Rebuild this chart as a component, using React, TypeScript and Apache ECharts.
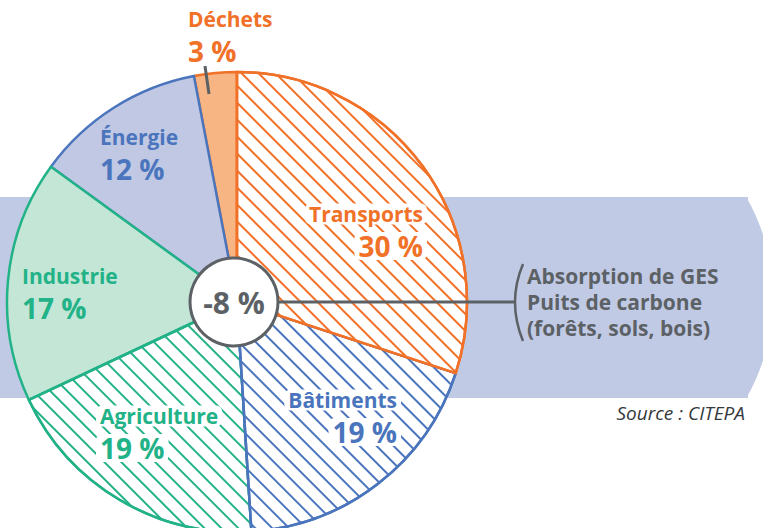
import React, { useEffect, useRef } from "react";
import * as echarts from "echarts";

// ---- data ----
const categories = ["Transports", "Bâtiments", "Agriculture", "Industrie", "Énergie", "Déchets"];
const shares = [30, 19, 19, 17, 12, 3];
const netAbsorption = -8;
const absorptionLines = ["Absorption de GES", "Puits de carbone", "(forêts, sols, bois)"];
const sourceText = "Source : CITEPA";

// ---- styles ----
const ORANGE = "#F07127";
const BLUE = "#4A75BD";
const GREEN = "#22B287";
const GRAY = "#5C6166";
const BAND = "#C1CAE5";
const FONT = '"Open Sans", "Noto Sans", sans-serif';

const sliceStyle: Record<string, { line: string; fill: string; hatch: boolean }> = {
  Transports: { line: ORANGE, fill: "#FFFFFF", hatch: true },
  "Bâtiments": { line: BLUE, fill: "#FFFFFF", hatch: true },
  Agriculture: { line: GREEN, fill: "#FFFFFF", hatch: true },
  Industrie: { line: GREEN, fill: "#C4E6D7", hatch: false },
  "Énergie": { line: BLUE, fill: "#C0C8E4", hatch: false },
  "Déchets": { line: ORANGE, fill: "#F8B584", hatch: false },
};

// label anchor: x, top y, alignment
const labelPos: Record<string, { x: number; y: number; align: "left" | "right" }> = {
  Transports: { x: 423, y: 199, align: "right" },
  "Bâtiments": { x: 397, y: 385, align: "right" },
  Agriculture: { x: 100, y: 401, align: "left" },
  Industrie: { x: 22, y: 261, align: "left" },
  "Énergie": { x: 100, y: 122, align: "left" },
  "Déchets": { x: 188, y: 4, align: "left" },
};

export default function App() {
  const ref = useRef<HTMLDivElement>(null);

  useEffect(() => {
    if (!ref.current) return;
    const chart = echarts.init(ref.current, null, { renderer: "svg", width: 763, height: 528 });

    // drawn in reverse so that earlier slices' borders sit on top (counter-clockwise from top)
    const order = categories.map((_, i) => i).reverse();
    const data = order.map((i) => {
      const name = categories[i];
      const st = sliceStyle[name];
      const pos = labelPos[name];
      const bg = st.hatch ? { backgroundColor: "#FFFFFF", borderRadius: 6 } : {};
      return {
        name,
        value: shares[i],
        itemStyle: {
          color: st.fill,
          borderColor: st.line,
          borderWidth: 2.5,
          decal: st.hatch
            ? {
                symbol: "rect",
                symbolSize: 1,
                dashArrayX: [1, 0],
                dashArrayY: [1.6, 10],
                rotation: Math.PI / 4,
                color: st.line,
              }
            : "none",
        },
        label: {
          color: st.line,
          rich: {
            n: { fontFamily: FONT, fontWeight: "bold", fontSize: 21, lineHeight: 30, color: st.line, align: pos.align, padding: [0, 4], ...bg },
            v: { fontFamily: FONT, fontWeight: "bold", fontSize: 28, lineHeight: 34, color: st.line, align: pos.align, padding: [0, 4], ...bg },
          },
        },
      };
    });

    const option = {
      animation: false,
      graphic: [
        { type: "rect", z: 0, shape: { x: 0, y: 197, width: 748, height: 201 }, style: { fill: BAND } },
        { type: "sector", z: 0, shape: { cx: 570, cy: 297.5, r: 203, startAngle: -0.52, endAngle: 0.52 }, style: { fill: BAND } },
        { type: "line", z: 99, shape: { x1: 270, y1: 302, x2: 516, y2: 302 }, style: { stroke: GRAY, lineWidth: 3 } },
        { type: "circle", z: 100, shape: { cx: 234, cy: 302, r: 44 }, style: { fill: "#FFFFFF", stroke: GRAY, lineWidth: 3 } },
        {
          type: "text", z: 101, x: 234, y: 302,
          style: { text: `${netAbsorption} %`, fill: GRAY, font: `bold 30px ${FONT}`, align: "center", verticalAlign: "middle" },
        },
        {
          type: "bezierCurve", z: 99,
          shape: { x1: 523, y1: 264, cpx1: 507, cpy1: 302, x2: 523, y2: 341 },
          style: { stroke: GRAY, lineWidth: 2.5, fill: "none" },
        },
        ...absorptionLines.map((t, k) => ({
          type: "text", z: 101, x: 527, y: 276 + k * 26,
          style: { text: t, fill: GRAY, font: `bold 21px ${FONT}`, align: "left", verticalAlign: "middle" },
        })),
        {
          type: "text", z: 101, x: 745, y: 413,
          style: { text: sourceText, fill: "#33383D", font: `italic 19px ${FONT}`, align: "right", verticalAlign: "middle" },
        },
        { type: "line", z: 99, shape: { x1: 205, y1: 66, x2: 209, y2: 94 }, style: { stroke: GRAY, lineWidth: 3 } },
      ],
      series: [
        {
          type: "pie",
          center: [237, 302],
          radius: [0, 230],
          startAngle: 90,
          clockwise: false,
          avoidLabelOverlap: false,
          z: 2,
          label: {
            show: true,
            position: "inside",
            formatter: (p: any) => `{n|${p.name}}\n{v|${p.value} %}`,
          },
          labelLine: { show: false },
          labelLayout: (params: any) => {
            const name = categories[order[params.dataIndex]];
            const pos = labelPos[name];
            const dx = pos.align === "right" ? 4 : -4;
            return { x: pos.x + dx, y: pos.y, align: pos.align, verticalAlign: "top" };
          },
          emphasis: { disabled: true },
          data,
        },
      ],
    };

    chart.setOption(option as any);
    return () => chart.dispose();
  }, []);

  return (
    <div
      ref={ref}
      style={{ position: "fixed", left: 0, top: 0, width: 763, height: 528, background: "#FFFFFF" }}
    />
  );
}
